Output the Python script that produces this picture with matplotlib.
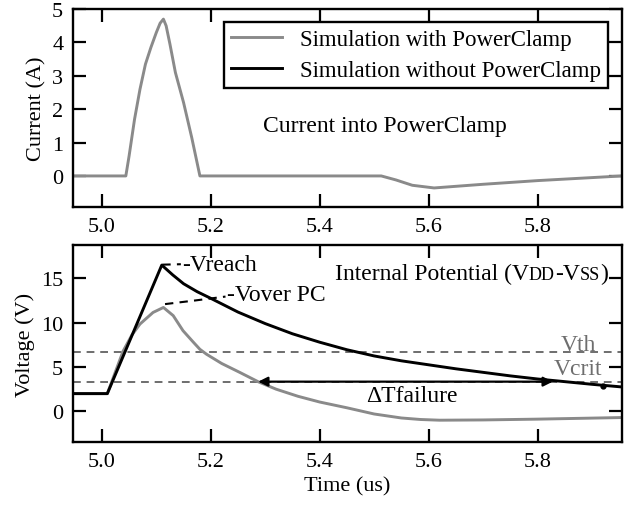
import matplotlib
matplotlib.use('Agg')
import matplotlib.pyplot as plt
import matplotlib.transforms as mtransforms

plt.rcParams['font.family'] = ['Liberation Serif', 'DejaVu Serif']

# current into the power clamp (A)
t_cur = [4.947, 5.044, 5.05, 5.06, 5.07, 5.08, 5.09, 5.1, 5.107, 5.113, 5.118,
         5.125, 5.135, 5.15, 5.165, 5.18, 5.513, 5.54, 5.57, 5.61, 5.7, 5.8, 5.955]
i_cur = [0, 0, 0.6, 1.7, 2.6, 3.35, 3.85, 4.3, 4.58, 4.7, 4.5,
         3.95, 3.1, 2.2, 1.15, 0, 0, -0.12, -0.28, -0.36, -0.25, -0.14, 0.0]

# internal potential without power clamp (V)
t_nopc = [4.947, 5.01, 5.11, 5.13, 5.15, 5.175, 5.2, 5.25, 5.3, 5.35, 5.4,
          5.45, 5.5, 5.55, 5.6, 5.65, 5.7, 5.75, 5.8, 5.85, 5.9, 5.955]
v_nopc = [2, 2, 16.5, 15.4, 14.4, 13.5, 12.75, 11.2, 9.9, 8.75, 7.8,
          6.95, 6.25, 5.7, 5.25, 4.8, 4.4, 4.0, 3.65, 3.35, 3.05, 2.75]

# internal potential with power clamp (V)
t_pc = [4.947, 5.01, 5.039, 5.055, 5.07, 5.094, 5.113, 5.131, 5.149, 5.168,
        5.18, 5.192, 5.22, 5.253, 5.287, 5.32, 5.36, 5.4, 5.45, 5.5, 5.55,
        5.585, 5.62, 5.7, 5.8, 5.955]
v_pc = [2, 2, 6.8, 8.6, 9.85, 11.16, 11.72, 10.8, 9.1, 7.8,
        7.0, 6.45, 5.4, 4.4, 3.34, 2.5, 1.7, 1.05, 0.4, -0.3, -0.75,
        -0.92, -1.0, -0.97, -0.88, -0.7]

v_th = 6.75
v_crit = 3.35
t_fail = [5.287, 5.828]
t_reach = [5.111, 5.145]
v_reach = [16.55, 16.6]
t_over = [5.116, 5.17, 5.227]
v_over = [12.1, 12.5, 12.95]

gray = '#8a8a8a'
dgray = '#6e6e6e'

fig = plt.figure(figsize=(6.31, 5.06), dpi=100)
ax1 = fig.add_axes([0.1157, 0.589, 0.870, 0.391])
ax2 = fig.add_axes([0.1157, 0.1245, 0.870, 0.389])

for ax in (ax1, ax2):
    ax.set_xlim(4.947, 5.955)
    ax.set_xticks([5.0, 5.2, 5.4, 5.6, 5.8])
    ax.tick_params(direction='in', top=True, right=True, length=9.5, width=1.6,
                   labelsize=16, pad=7)
    for s in ax.spines.values():
        s.set_linewidth(1.7)

# top panel
ax1.plot(t_cur, i_cur, color=gray, lw=2.1, label='Simulation with PowerClamp')
ax1.plot([], [], color='black', lw=2.1, label='Simulation without PowerClamp')
ax1.set_ylim(-0.93, 5)
ax1.set_yticks([0, 1, 2, 3, 4, 5])
ax1.set_ylabel('Current (A)', fontsize=16, labelpad=4)
ax1.text(5.52, 1.5, 'Current into PowerClamp', fontsize=17, ha='center', va='center')
leg = ax1.legend(loc='upper right', bbox_to_anchor=(0.9745, 0.934), borderaxespad=0,
                 fontsize=16.5, frameon=True, fancybox=False, framealpha=1,
                 handlelength=2.2, handletextpad=0.8, labelspacing=0.45,
                 borderpad=0.3)
leg.get_frame().set_edgecolor('black')
leg.get_frame().set_linewidth(1.7)

# bottom panel
ax2.axhline(v_th, color=dgray, lw=1.4, ls=(0, (4, 3)))
ax2.axhline(v_crit, color=dgray, lw=1.4, ls=(0, (4, 3)))
ax2.plot(t_pc, v_pc, color=gray, lw=2.1)
ax2.plot(t_nopc, v_nopc, color='black', lw=2.1)
ax2.plot(t_reach, v_reach, color='black', lw=1.5, ls=(0, (4, 3)))
ax2.plot(t_over, v_over, color='black', lw=1.5, ls=(0, (4, 3)))
ax2.text(5.147, 16.6, '-Vreach', fontsize=17, ha='left', va='center')
ax2.text(5.229, 13.2, '-Vover PC', fontsize=17, ha='left', va='center')
ax2.annotate('', xy=(t_fail[0], v_crit), xytext=(t_fail[1], v_crit),
             arrowprops=dict(arrowstyle='<|-|>', color='black', lw=1.6,
                             mutation_scale=14, shrinkA=0, shrinkB=0))
ax2.plot([5.92], [2.85], 'o', color='black', ms=3.5)
ax2.text(5.57, 1.8, '\u0394Tfailure', fontsize=17, ha='center', va='center')
ax2.text(5.875, 7.55, 'Vth', fontsize=17, color=dgray, ha='center', va='center')
ax2.text(5.875, 4.8, 'Vcrit', fontsize=17, color=dgray, ha='center', va='center')
ax2.set_ylim(-3.46, 18.75)
ax2.set_yticks([0, 5, 10, 15])
ax2.set_ylabel('Voltage (V)', fontsize=16, labelpad=4)
ax2.set_xlabel('Time (us)', fontsize=16, labelpad=4)

# "Internal Potential (VDD-VSS)" with smaller capitals for DD / SS
parts = [('Internal Potential (V', 17), ('DD', 13), ('-V', 17), ('SS', 13), (')', 17)]
fig.canvas.draw()
renderer = fig.canvas.get_renderer()
tr = ax2.transData
for s, fs in parts:
    txt = ax2.text(5.4275, 14.9, s, fontsize=fs, transform=tr, va='baseline', ha='left')
    txt.draw(renderer)
    ex = txt.get_window_extent(renderer)
    tr = mtransforms.offset_copy(txt.get_transform(), x=ex.width, units='dots')

fig.savefig('out.png', dpi=100)
